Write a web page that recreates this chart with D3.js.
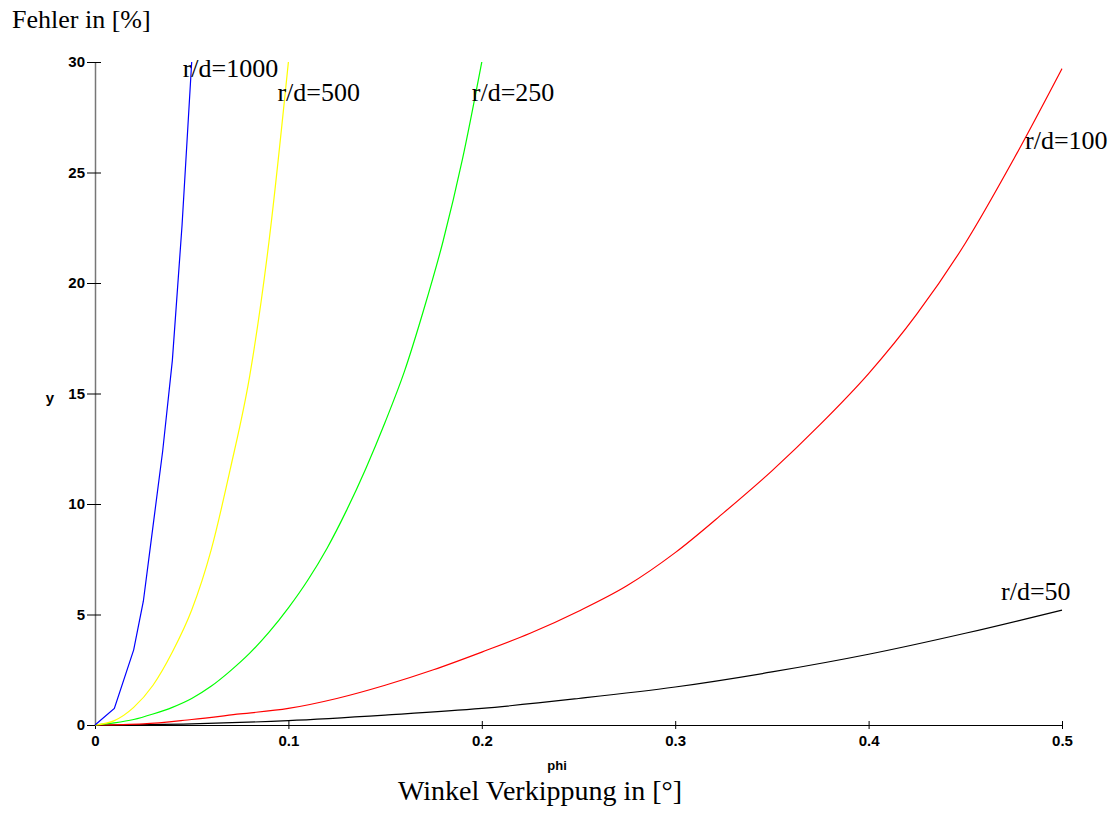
<!DOCTYPE html>
<html>
<head>
<meta charset="utf-8">
<script src="https://cdn.jsdelivr.net/npm/d3@7"></script>
<style>
  body { margin: 0; background: #fff; }
  svg { display: block; }
</style>
</head>
<body>
<div id="chart"></div>
<script>
// values (phi, error in %)
const phi1000 = [0, 0.01, 0.02, 0.025, 0.03, 0.035, 0.04, 0.045, 0.05];
const err1000 = [0, 0.75, 3.4, 5.6, 9.0, 12.4, 16.5, 22.6, 30];

const phi500 = [0, 0.01, 0.02, 0.03, 0.04, 0.05, 0.06, 0.07, 0.08, 0.09, 0.1];
const err500 = [0, 0.2, 0.8, 1.8, 3.3, 5.2, 7.9, 11.6, 15.8, 21.9, 30];

const phi250 = [0, 0.01, 0.02, 0.03, 0.04, 0.05, 0.06, 0.07, 0.08, 0.09, 0.1,
                0.11, 0.12, 0.13, 0.14, 0.15, 0.16, 0.17, 0.18, 0.19, 0.2];
const err250 = [0, 0.1, 0.25, 0.5, 0.8, 1.2, 1.75, 2.45, 3.25, 4.2, 5.3,
                6.55, 8.0, 9.7, 11.6, 13.7, 16.0, 18.8, 21.9, 25.6, 30];

const phi100 = [0, 0.025, 0.05, 0.075, 0.1, 0.125, 0.15, 0.175, 0.2, 0.225, 0.25,
                0.275, 0.3, 0.325, 0.35, 0.375, 0.4, 0.425, 0.45, 0.475, 0.5];
const err100 = [0, 0.05, 0.25, 0.5, 0.75, 1.2, 1.8, 2.5, 3.3, 4.15, 5.15,
                6.3, 7.8, 9.6, 11.5, 13.6, 15.9, 18.6, 21.8, 25.6, 29.7];

const phi50 = [0, 0.05, 0.1, 0.15, 0.2, 0.25, 0.3, 0.35, 0.4, 0.45, 0.5];
const err50 = [0, 0.05, 0.2, 0.45, 0.75, 1.2, 1.72, 2.4, 3.2, 4.15, 5.2];

const seriesNames = ["r/d=50", "r/d=100", "r/d=250", "r/d=500", "r/d=1000"];
const seriesPhi = [phi50, phi100, phi250, phi500, phi1000];
const seriesErr = [err50, err100, err250, err500, err1000];

const xTicks = [0, 0.1, 0.2, 0.3, 0.4, 0.5];
const yTicks = [0, 5, 10, 15, 20, 25, 30];

// styling / layout
const colors = ["#000000", "#ff0000", "#00ff00", "#ffff00", "#0000ff"];
const curves = [d3.curveMonotoneX, d3.curveMonotoneX, d3.curveMonotoneX, d3.curveMonotoneX, d3.curveLinear];
const labelOffsets = [[-61, -10], [-37, 80], [-10, 39], [-11, 39], [-9, 15]];

const width = 1115, height = 832;
const tickFont = "Liberation Sans, Arial, sans-serif";
const textFont = "Liberation Serif, Times New Roman, serif";

const svg = d3.select("#chart").append("svg")
    .attr("width", width)
    .attr("height", height);

const x = d3.scaleLinear().domain([0, 0.5]).range([95, 1062]);
const y = d3.scaleLinear().domain([0, 30]).range([725, 62]);

// x axis
const gx = svg.append("g")
    .attr("transform", `translate(0,${y(0)})`)
    .call(d3.axisBottom(x).tickValues(xTicks).tickFormat(d3.format("")).tickSize(4).tickSizeOuter(0).tickPadding(6));
gx.select(".domain").attr("stroke", "#000");
gx.selectAll(".tick line").attr("y1", -4).attr("y2", 4).attr("stroke", "#000");
gx.selectAll(".tick text")
    .attr("font-family", tickFont)
    .attr("font-weight", "bold")
    .attr("font-size", 15)
    .attr("fill", "#000");

// y axis
const gy = svg.append("g")
    .attr("transform", `translate(${x(0)},0)`)
    .call(d3.axisLeft(y).tickValues(yTicks).tickSize(8).tickSizeOuter(0).tickPadding(2));
gy.select(".domain").attr("stroke", "#777").attr("stroke-width", 1.5);
gy.selectAll(".tick line").attr("x1", 6).attr("x2", -8).attr("stroke", "#000");
gy.selectAll(".tick text")
    .attr("font-family", tickFont)
    .attr("font-weight", "bold")
    .attr("font-size", 15)
    .attr("fill", "#000");

// axis names
svg.append("text")
    .attr("x", 557).attr("y", 770)
    .attr("text-anchor", "middle")
    .attr("font-family", tickFont)
    .attr("font-weight", "bold")
    .attr("font-size", 13)
    .text("phi");

svg.append("text")
    .attr("x", 50).attr("y", 403)
    .attr("text-anchor", "middle")
    .attr("font-family", tickFont)
    .attr("font-weight", "bold")
    .attr("font-size", 15)
    .text("y");

// curves
seriesNames.forEach((name, i) => {
    const pts = seriesPhi[i].map((p, j) => [p, seriesErr[i][j]]);
    const line = d3.line()
        .x(d => x(d[0]))
        .y(d => y(d[1]))
        .curve(curves[i]);

    svg.append("path")
        .datum(pts)
        .attr("fill", "none")
        .attr("stroke", colors[i])
        .attr("stroke-width", 1.2)
        .attr("d", line);

    const last = pts[pts.length - 1];
    svg.append("text")
        .attr("x", x(last[0]) + labelOffsets[i][0])
        .attr("y", y(last[1]) + labelOffsets[i][1])
        .attr("font-family", textFont)
        .attr("font-size", 26)
        .attr("fill", "#000")
        .text(name);
});

// titles
svg.append("text")
    .attr("x", 12).attr("y", 28)
    .attr("font-family", textFont)
    .attr("font-size", 26)
    .text("Fehler in [%]");

svg.append("text")
    .attr("x", 398).attr("y", 800)
    .attr("font-family", textFont)
    .attr("font-size", 28)
    .text("Winkel Verkippung in [°]");
</script>
</body>
</html>
